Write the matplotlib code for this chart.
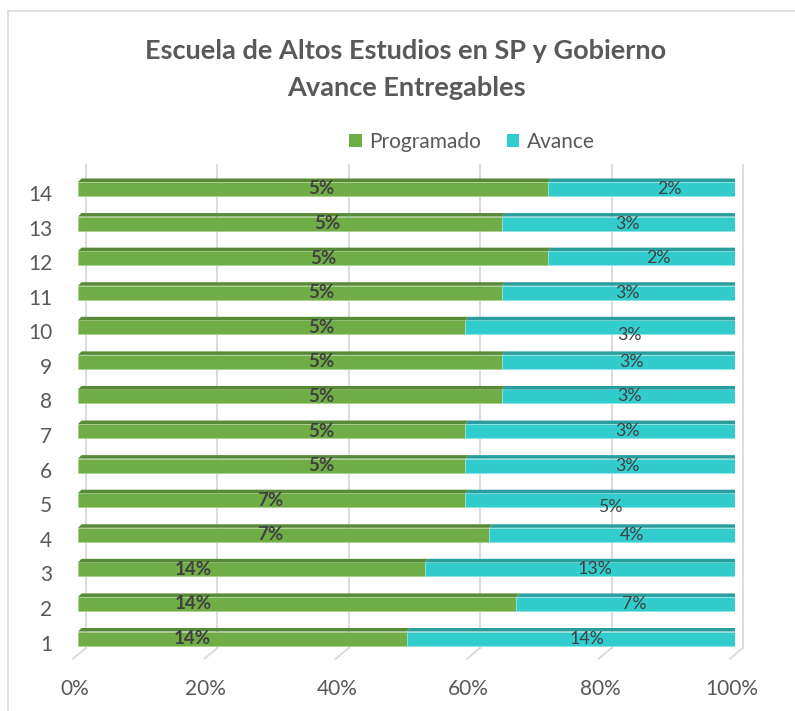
import matplotlib
matplotlib.use("Agg")
import matplotlib.pyplot as plt
from matplotlib.patches import Polygon, Patch
from matplotlib.lines import Line2D
from matplotlib.transforms import ScaledTranslation, blended_transform_factory

# ---------------- data ----------------
categories = [str(i) for i in range(1, 15)]
programado = [14.29, 14.29, 14.29, 7.14, 7.14, 4.76, 4.76, 4.76, 4.76, 4.76, 4.76, 4.76, 4.76, 4.76]
avance = [14.29, 7.14, 12.8, 4.27, 4.98, 3.32, 3.32, 2.62, 2.62, 3.32, 2.62, 1.90, 2.62, 1.90]
x_ticks = [0, 0.2, 0.4, 0.6, 0.8, 1.0]
x_tick_labels = ["0%", "20%", "40%", "60%", "80%", "100%"]
series_names = ["Programado", "Avance"]
title_lines = ["Escuela de Altos Estudios en SP y Gobierno", "Avance Entregables"]

# label anchor positions (axis fraction) as placed in the original chart
prog_label_x = [0.1735, 0.175, 0.175, 0.292, 0.292, 0.371, 0.371, 0.371, 0.371, 0.371, 0.371, 0.374, 0.380, 0.371]
av_label_x = [0.774, 0.846, 0.787, 0.843, 0.810, 0.837, 0.837, 0.840, 0.843, 0.840, 0.837, 0.883, 0.837, 0.900]
av_label_dy_px = [0, 0, 0, 0, -7, 0, 0, 0, 0, -8, 0, 0, 0, 0]

# ---------------- style ----------------
FONT = "Lato"
plt.rcParams["font.family"] = [FONT, "DejaVu Sans"]
GREEN = "#70AD47"
GREEN_TOP = "#578A36"
GREEN_EDGE = "#A9D18E"
TEAL = "#33CCCC"
TEAL_TOP = "#2A9E9E"
TEAL_SIDE = "#1F8080"
TEAL_EDGE = "#8FE3E3"
GRID = "#D9D9D9"
TEXT = "#595959"
LABEL = "#404040"

W, H, DPI = 795, 711, 100
fig = plt.figure(figsize=(W / DPI, H / DPI), dpi=DPI)

ax_left, ax_right = 78, 735
ax_top, ax_bottom = 171.7, 655.8
ax = fig.add_axes([ax_left / W, (H - ax_bottom) / H, (ax_right - ax_left) / W, (ax_bottom - ax_top) / H])
ax.set_xlim(0, 1)
ax.set_ylim(0.5, 14.5)
for s in ax.spines.values():
    s.set_visible(False)
ax.patch.set_alpha(0)

px_x = (ax_right - ax_left)          # pixels per x unit
px_y = (ax_bottom - ax_top) / 14.0   # pixels per row
ax_h_px = ax_bottom - ax_top

# ---------- back wall gridlines + floor ticks ----------
bt = blended_transform_factory(ax.transData, ax.transAxes)
for t in x_ticks:
    ax.add_line(Line2D([t + 8 / px_x, t + 8 / px_x], [8 / ax_h_px, 1 + 6.7 / ax_h_px],
                       transform=bt, color=GRID, lw=1.3, clip_on=False, zorder=1))
    ax.add_line(Line2D([t + 8 / px_x, t - 5 / px_x], [8 / ax_h_px, -3 / ax_h_px],
                       transform=bt, color=GRID, lw=1.3, clip_on=False, zorder=1))

# ---------- bars ----------
h = 14 / px_y
dx = 3.5 / px_x
dy = 3.5 / px_y
rows = list(range(1, len(categories) + 1))
totals = [p + a for p, a in zip(programado, avance)]
pf = [p / t for p, t in zip(programado, totals)]
af = [a / t for a, t in zip(avance, totals)]

ax.barh(rows, pf, left=0, height=h, color=GREEN, edgecolor=GREEN_EDGE, linewidth=0.6, zorder=3)
ax.barh(rows, af, left=pf, height=h, color=TEAL, edgecolor=TEAL_EDGE, linewidth=0.6, zorder=3)

for y, p in zip(rows, pf):
    yt = y + h / 2
    yb = y - h / 2
    ax.add_patch(Polygon([(p, yt), (1, yt), (1 + dx, yt + dy), (p + dx, yt + dy)],
                         closed=True, facecolor=TEAL_TOP, edgecolor="none", zorder=4))
    ax.add_patch(Polygon([(1, yb), (1, yt), (1 + dx, yt + dy), (1 + dx, yb + dy)],
                         closed=True, facecolor=TEAL_SIDE, edgecolor="none", zorder=4))
    ax.add_patch(Polygon([(0, yt), (p, yt), (p + dx, yt + dy), (dx, yt + dy)],
                         closed=True, facecolor=GREEN_TOP, edgecolor="none", zorder=5))

# ---------- value labels ----------
for y, p, a, lx, ax_lx, ddy in zip(rows, programado, avance, prog_label_x, av_label_x, av_label_dy_px):
    ax.text(lx, y, f"{round(p)}%", ha="center", va="center", fontsize=13.5,
            fontweight="bold", color=LABEL, zorder=6)
    tr = ax.transData + ScaledTranslation(0, ddy / DPI, fig.dpi_scale_trans)
    ax.text(ax_lx, y, f"{round(a)}%", ha="center", va="center", fontsize=12.8,
            color=LABEL, zorder=6, transform=tr)

# ---------- axes ticks ----------
ax.set_xticks(x_ticks, x_tick_labels)
ax.set_yticks(rows, categories)
ax.tick_params(axis="x", length=0, pad=16.5, labelsize=15, labelcolor=TEXT)
ax.tick_params(axis="y", length=0, pad=18.5, labelsize=15, labelcolor=TEXT)
for lab in ax.get_xticklabels():
    lab.set_transform(lab.get_transform() + ScaledTranslation(-3.5 / DPI, 0, fig.dpi_scale_trans))
for lab in ax.get_yticklabels():
    lab.set_transform(lab.get_transform() + ScaledTranslation(0, -4 / DPI, fig.dpi_scale_trans))

# ---------- title ----------
fig.text(406 / W, 1 - 51 / H, title_lines[0], ha="center", va="center",
         fontsize=19.5, fontweight="bold", color=TEXT)
fig.text(406 / W, 1 - 88 / H, title_lines[1], ha="center", va="center",
         fontsize=19.5, fontweight="bold", color=TEXT)

# ---------- legend ----------
handles = [Patch(facecolor=GREEN, edgecolor="none"), Patch(facecolor=TEAL, edgecolor="none")]
fig.legend(handles, series_names, loc="center", bbox_to_anchor=(472 / W, 1 - 142 / H),
           ncol=2, frameon=False, fontsize=15, labelcolor=TEXT,
           handlelength=0.62, handleheight=0.62, handletextpad=0.35, columnspacing=1.2)

# ---------- chart border ----------
fig.add_artist(Line2D([8 / W, 8 / W], [0, 1 - 11 / H], transform=fig.transFigure, color=GRID, lw=1.2))
fig.add_artist(Line2D([8 / W, 1], [1 - 11 / H, 1 - 11 / H], transform=fig.transFigure, color=GRID, lw=1.2))

fig.savefig("out.png", dpi=DPI)
